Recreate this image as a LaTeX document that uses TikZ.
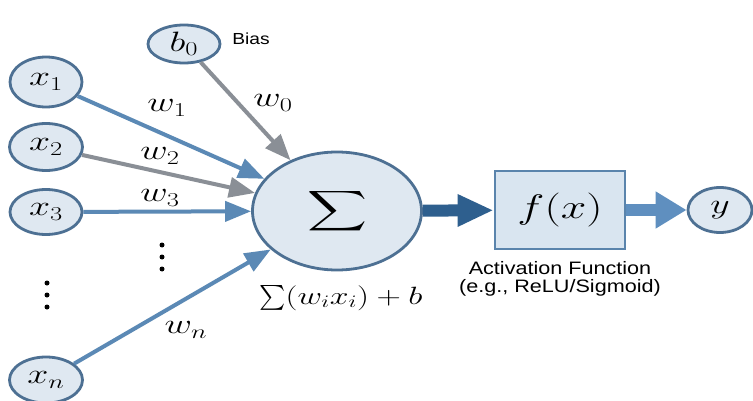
\RequirePackage{fix-cm}
\documentclass[tikz,border=0pt]{standalone}
\usepackage{exscale}
\usepackage{fontspec}
\setsansfont{Liberation Sans}[FakeStretch=1.2]
\usepackage{graphicx}
\usetikzlibrary{arrows.meta,shapes.geometric}
\definecolor{nodefill}{HTML}{DFE8F1}
\definecolor{nodeborder}{HTML}{4D7093}
\definecolor{arrowblue}{HTML}{5B89B5}
\definecolor{arrowgray}{HTML}{8A8F96}
\definecolor{arrowdark}{HTML}{2E5F8E}
\definecolor{arrowmid}{HTML}{5F8FBF}
\definecolor{boxfill}{HTML}{D9E5F0}
\definecolor{boxborder}{HTML}{5A84AC}
\newcommand{\mlab}[1]{\scalebox{1.35}[1]{$#1$}}
\tikzset{
  neuron/.style={ellipse, draw=nodeborder, fill=nodefill, line width=2.8pt,
    inner sep=0pt, font=\fontsize{28}{30}\selectfont},
  wlabel/.style={inner sep=0pt, font=\fontsize{28}{30}\selectfont},
  inblue/.style={arrowblue, line width=4pt, -{Triangle[length=26pt,width=20pt]}},
  ingray/.style={arrowgray, line width=4pt, -{Triangle[length=26pt,width=20pt]}},
  dotmark/.style={fill=black, circle, inner sep=0pt, minimum size=5pt}
}
\begin{document}
\begin{tikzpicture}[x=1pt,y=-1pt]
\useasboundingbox[fill=white] (0,0) rectangle (753,401);

% nodes
\node[neuron, minimum width=72pt, minimum height=38pt] (b0) at (184,44) {\mlab{b_0}};
\node[neuron, minimum width=72pt, minimum height=50pt] (x1) at (46,82) {\mlab{x_1}};
\node[neuron, minimum width=73pt, minimum height=47pt] (x2) at (46,147) {\mlab{x_2}};
\node[neuron, minimum width=72pt, minimum height=45pt] (x3) at (46,212) {\mlab{x_3}};
\node[neuron, minimum width=73pt, minimum height=46pt] (xn) at (46,380) {\mlab{x_n}};
\node[neuron, minimum width=169pt, minimum height=118pt] (sigma) at (337,211)
  {\resizebox*{60pt}{45pt}{$\displaystyle\sum$}};
\node[rectangle, draw=boxborder, fill=boxfill, line width=2.8pt, inner sep=0pt,
  minimum width=130pt, minimum height=78pt, font=\fontsize{34}{36}\selectfont]
  (fx) at (560,210) {\mlab{f(x)}};
\node[neuron, minimum width=64pt, minimum height=45pt] (y) at (720,210) {\mlab{y}};

% connectors
\draw[inblue] (x1) -- (sigma);
\draw[ingray] (x2) -- (sigma);
\draw[inblue] (x3) -- (sigma);
\draw[inblue] (xn) -- (sigma);
\draw[ingray] (b0) -- (sigma);
\draw[arrowdark, line width=12pt, -{Triangle[length=36pt,width=30pt]}] (sigma) -- (fx);
\draw[arrowmid, line width=12pt, -{Triangle[length=31pt,width=35pt]}] (fx) -- (y);

% labels
\node[wlabel] (w0) at (273,103) {\mlab{w_0}};
\node[wlabel] (w1) at (167,108) {\mlab{w_1}};
\node[wlabel] (w2) at (160,156) {\mlab{w_2}};
\node[wlabel] (w3) at (160,198) {\mlab{w_3}};
\node[wlabel] (wn) at (186,330) {\mlab{w_n}};
\node[inner sep=0pt, font=\sffamily\fontsize{16}{18}\selectfont] (bias) at (251,39) {Bias};
\node[inner sep=0pt, anchor=north, align=center,
  font=\sffamily\fontsize{18}{18}\selectfont] (act) at (560,261)
  {Activation Function\\(e.g., ReLU/Sigmoid)};
\node[inner sep=0pt, font=\fontsize{25}{27}\selectfont] (sumlabel) at (341,298)
  {$\sum$\mlab{(w_ix_i)+b}};

% vertical dots
\node[dotmark] (d1a) at (162,245) {};
\node[dotmark] (d1b) at (162,257) {};
\node[dotmark] (d1c) at (162,269) {};
\node[dotmark] (d2a) at (47,283) {};
\node[dotmark] (d2b) at (47,295) {};
\node[dotmark] (d2c) at (47,307) {};
\end{tikzpicture}
\end{document}
